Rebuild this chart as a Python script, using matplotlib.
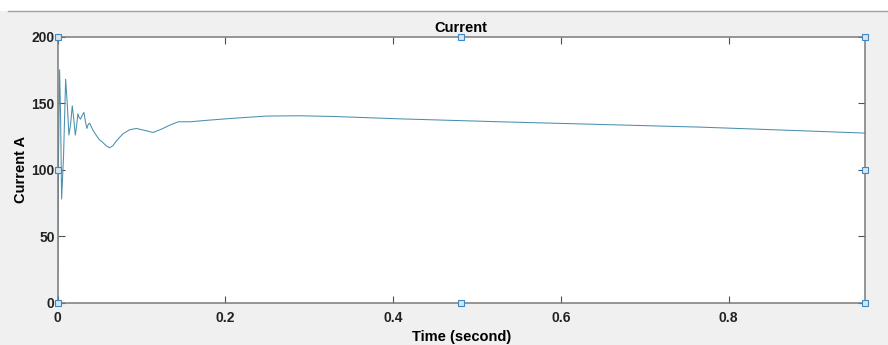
import matplotlib
matplotlib.use("Agg")
import matplotlib.pyplot as plt
from matplotlib.lines import Line2D
from matplotlib.patches import Rectangle

# values
time_s = [0.0, 0.0012, 0.0025, 0.0037, 0.0049, 0.0072, 0.0097, 0.0116, 0.0136,
          0.0156, 0.0176, 0.0194, 0.0212, 0.0228, 0.0243, 0.0259, 0.0275,
          0.0295, 0.0315, 0.0333, 0.035, 0.0366, 0.0383, 0.0420, 0.0460,
          0.0500, 0.0540, 0.0580, 0.0620, 0.0660, 0.0700, 0.0780, 0.0860,
          0.0940, 0.1040, 0.1140, 0.1240, 0.1340, 0.1440, 0.1580, 0.1800,
          0.2090, 0.2490, 0.2890, 0.3280, 0.4080, 0.5270, 0.6465, 0.7660,
          0.8850, 0.9625]
current_a = [0.0, 110.0, 175.0, 140.0, 78.0, 110.0, 168.0, 150.0, 126.0,
             134.0, 148.0, 138.0, 126.0, 133.0, 142.0, 139.0, 138.0,
             141.0, 143.0, 136.0, 131.0, 134.0, 135.0, 130.0, 126.0,
             122.5, 120.5, 118.0, 116.5, 118.0, 121.5, 127.0, 130.0,
             131.0, 129.5, 128.0, 130.5, 133.5, 136.0, 136.0, 137.2,
             138.6, 140.3, 140.5, 140.0, 138.2, 136.0, 134.0, 132.0,
             129.3, 127.5]

x_ticks = [0, 0.2, 0.4, 0.6, 0.8]
y_ticks = [0, 50, 100, 150, 200]

plt.rcParams["font.family"] = ["Liberation Sans", "DejaVu Sans"]
plt.rcParams["font.weight"] = "bold"

fig = plt.figure(figsize=(8.88, 3.45), dpi=100)
fig.patch.set_facecolor("#f0f0f0")

# white strip and grey rule on top (like the MATLAB window)
fig.patches.append(Rectangle((0, 1 - 11 / 345), 1, 11 / 345, transform=fig.transFigure,
                             facecolor="white", edgecolor="none", zorder=0))
fig.lines.append(Line2D([8 / 888, 1], [1 - 11 / 345, 1 - 11 / 345], transform=fig.transFigure,
                        color="#a0a0a0", lw=1.0))

ax = fig.add_axes([57.5 / 888, 1 - 303 / 345, (865 - 57.5) / 888, (303 - 36.5) / 345])
ax.plot(time_s, current_a, color="#4a8fae", lw=0.75)

ax.set_xlim(0, 0.9625)
ax.set_ylim(0, 200)
ax.set_xticks(x_ticks)
ax.set_xticklabels([f"{t:g}" for t in x_ticks])
ax.set_yticks(y_ticks)

for s in ax.spines.values():
    s.set_color("#7a7a7a")
    s.set_linewidth(1.1)
ax.tick_params(direction="in", top=True, right=True, length=5, width=0.8,
               color="#505050", labelsize=10, labelcolor="#222222")
ax.tick_params(axis="x", pad=6)
ax.tick_params(axis="y", pad=2)

ax.set_title("Current", fontsize=10.5, fontweight="bold", pad=3)
ax.set_xlabel("Time (second)", fontsize=10.5, fontweight="bold", labelpad=3)
ax.set_ylabel("Current A", fontsize=10.5, fontweight="bold")
ax.yaxis.set_label_coords(-0.037, 0.5)

# selection handles
hx = [0, 0.5, 1, 0, 1, 0, 0.5, 1]
hy = [0, 0, 0, 0.5, 0.5, 1, 1, 1]
ax.plot(hx, hy, ls="none", marker="s", markersize=4, markerfacecolor="#d5e6f4",
        markeredgecolor="#3f88c5", markeredgewidth=0.8, transform=ax.transAxes,
        clip_on=False, zorder=5)

fig.savefig("out.png", dpi=100, facecolor=fig.get_facecolor())
